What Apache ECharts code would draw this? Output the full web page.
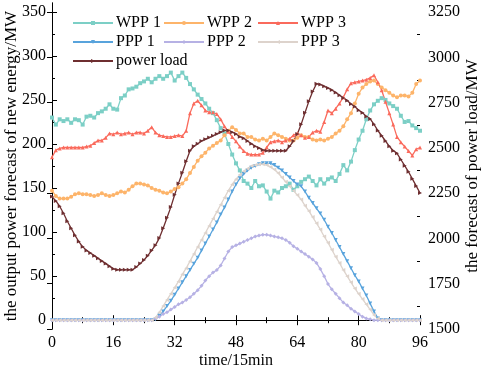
<!DOCTYPE html>
<html>
<head>
<meta charset="utf-8">
<script src="https://cdn.jsdelivr.net/npm/echarts@6/dist/echarts.min.js"></script>
<style>
  html, body { margin: 0; padding: 0; background: #fff; }
  #main { width: 484px; height: 367px; }
</style>
</head>
<body>
<div id="main"></div>
<script>
"use strict";
// time steps of 15 min, 0..96
let steps = [];
for (let i = 0; i <= 96; i++) steps.push(i);

// output power forecast of new energy (MW), left axis
let wpp1 = [230,222,228,226,228,224,228,227,222,231,232,230,235,237,240,245,240,239,252,255,262,263,265,269,271,274,270,274,277,274,277,281,272,277,281,275,268,262,256,251,246,240,235,227,218,212,200,188,178,170,158,155,150,158,152,153,146,138,147,145,150,152,155,148,152,157,160,163,158,153,160,155,160,162,158,166,176,170,180,193,205,215,228,238,245,249,252,250,246,243,240,232,225,226,221,218,215];
let wpp2 = [147,141,138,138,138,140,143,144,143,143,142,141,142,144,142,141,142,144,146,145,148,152,155,155,154,153,150,148,147,145,144,146,149,151,155,160,167,174,181,186,190,195,198,201,204,210,215,219,216,212,212,208,208,205,204,206,204,208,212,210,208,206,204,204,207,210,208,208,205,204,205,204,206,208,212,215,220,228,235,246,257,264,268,271,272,268,264,261,258,255,253,255,255,254,258,268,272];
let wpp3 = [185,193,195,196,196,196,196,196,196,197,198,201,204,204,207,212,211,213,211,212,213,211,213,213,212,215,219,213,210,209,208,208,209,210,209,215,235,246,249,244,238,236,236,234,228,220,214,208,203,197,192,189,188,188,188,190,196,202,203,204,202,204,206,210,212,210,207,208,213,215,214,225,238,235,240,246,253,262,269,270,271,272,273,275,278,270,261,248,235,222,208,202,197,192,187,194,196];
let ppp1 = [0,0,0,0,0,0,0,0,0,0,0,0,0,0,0,0,0,0,0,0,0,0,0,0,0,0,0,1,5,10,16,22,29,36,43,50,57,64,71,79,87,95,103,111,120,128,137,146,154,161,166,170,173,175,177,178,178,178,176,173,170,166,162,158,154,152,146,139,133,127,121,114,106,99,91,83,75,67,59,51,44,36,28,19,10,2,0,0,0,0,0,0,0,0,0,0,0];
let ppp2 = [0,0,0,0,0,0,0,0,0,0,0,0,0,0,0,0,0,0,0,0,0,0,0,0,0,0,0,2,4,7,9,12,15,18,20,23,26,30,34,39,45,50,54,57,62,70,78,83,85,87,89,91,93,95,96,97,97,96,95,94,93,91,88,84,81,78,75,72,69,65,58,50,41,35,30,25,20,17,13,10,7,4,2,1,0,0,0,0,0,0,0,0,0,0,0,0,0];
let ppp3 = [0,0,0,0,0,0,0,0,0,0,0,0,0,0,0,0,0,0,0,0,0,0,0,0,0,0,0,3,9,16,23,30,37,44,52,59,67,75,83,91,99,107,115,123,131,139,147,154,160,165,169,172,175,176,177,177,176,174,171,167,162,157,152,147,142,137,130,124,117,110,103,95,88,80,72,65,57,50,43,36,30,24,18,12,6,2,0,0,0,0,0,0,0,0,0,0,0];
// forecast of power load (MW), right axis
let powerLoad = [2231,2207,2178,2139,2095,2056,2017,1983,1954,1934,1920,1905,1890,1876,1861,1847,1832,1827,1827,1827,1827,1827,1842,1861,1881,1905,1934,1963,2002,2056,2114,2173,2241,2304,2363,2426,2484,2509,2523,2538,2548,2557,2567,2577,2587,2596,2596,2587,2577,2562,2553,2538,2523,2509,2499,2489,2484,2484,2484,2484,2484,2484,2509,2538,2577,2630,2694,2757,2811,2854,2850,2840,2830,2820,2806,2791,2776,2762,2742,2728,2708,2694,2674,2660,2630,2596,2567,2538,2509,2484,2470,2436,2402,2368,2329,2290,2251];

let leftTicks = [0, 50, 100, 150, 200, 250, 300, 350];
let leftMinor = [25, 75, 125, 175, 225, 275, 325];
let rightTicks = [1500, 1750, 2000, 2250, 2500, 2750, 3000, 3250];
let rightMinor = [1625, 1875, 2125, 2375, 2625, 2875, 3125];

const FONT = '"Liberation Serif", "Times New Roman", serif';
const symRight = 'path://M0,0L10,5L0,10Z';
const symDown = 'path://M0,0L10,0L5,10Z';
const symLeft = 'path://M10,0L0,5L10,10Z';

function pairs(arr) {
    return arr.map(function (v, i) { return [steps[i], v]; });
}

function lineSeries(name, arr, color, symbol, yIdx) {
    return {
        name: name,
        type: 'line',
        yAxisIndex: yIdx || 0,
        data: pairs(arr),
        symbol: symbol,
        symbolSize: 4,
        showSymbol: true,
        lineStyle: { color: color, width: 1.3 },
        itemStyle: { color: color },
        animation: false
    };
}

let myChart = echarts.init(document.getElementById('main'));

let legendBase = {
    orient: 'vertical',
    top: 15,
    padding: 0,
    itemWidth: 40,
    itemHeight: 5,
    itemGap: 3,
    textStyle: { fontFamily: FONT, fontSize: 16, color: '#000', lineHeight: 16, padding: [0, 0, 0, -2] }
};

let plain = function (v) { return String(v); };

let option = {
    backgroundColor: '#fff',
    textStyle: { fontFamily: FONT },
    grid: { left: 52, right: 64, top: 3, bottom: 38, outerBoundsMode: 'none', containLabel: false },
    legend: [
        Object.assign({}, legendBase, { left: 72, data: ['WPP 1', 'PPP 1', 'power load'] }),
        Object.assign({}, legendBase, { left: 163, data: ['WPP 2', 'PPP 2'] }),
        Object.assign({}, legendBase, { left: 257, data: ['WPP 3', 'PPP 3'] })
    ],
    xAxis: [{
        type: 'value',
        min: 0, max: 96, interval: 16,
        name: 'time/15min',
        nameLocation: 'middle',
        nameGap: 24,
        nameMoveOverlap: false,
        nameTextStyle: { fontFamily: FONT, fontSize: 16, color: '#000', verticalAlign: 'top' },
        axisLine: { lineStyle: { color: '#000', width: 1 } },
        axisTick: { inside: true, length: 5, lineStyle: { color: '#000' } },
        minorTick: { show: true, splitNumber: 2, length: 3, lineStyle: { color: '#000' } },
        axisLabel: { fontFamily: FONT, fontSize: 16, color: '#000', margin: 6 },
        splitLine: { show: false }
    }, {
        type: 'value',
        position: 'top',
        min: 0, max: 96, interval: 16,
        axisLine: { lineStyle: { color: '#000', width: 1 } },
        axisTick: { inside: true, length: 5, lineStyle: { color: '#000' } },
        minorTick: { show: true, splitNumber: 2, length: 3, lineStyle: { color: '#000' } },
        axisLabel: { show: false },
        splitLine: { show: false }
    }],
    yAxis: [{
        type: 'value',
        position: 'left',
        min: -10, max: 360,
        name: 'the output power forecast of new energy/MW',
        nameLocation: 'middle',
        nameGap: 40,
        nameMoveOverlap: false,
        nameTextStyle: { fontFamily: FONT, fontSize: 17, color: '#000', verticalAlign: 'middle' },
        axisLine: { show: true, lineStyle: { color: '#000', width: 1 } },
        axisTick: { show: true, inside: true, length: 5, customValues: leftTicks, lineStyle: { color: '#000' } },
        axisLabel: { fontFamily: FONT, fontSize: 16, color: '#000', margin: 6, customValues: leftTicks },
        splitLine: { show: false }
    }, {
        type: 'value',
        position: 'right',
        min: 1500, max: 3300,
        name: 'the forecast of power load/MW',
        nameLocation: 'middle',
        nameGap: 53,
        nameRotate: 90,
        nameMoveOverlap: false,
        nameTextStyle: { fontFamily: FONT, fontSize: 17, color: '#000', verticalAlign: 'middle' },
        axisLine: { show: true, lineStyle: { color: '#000', width: 1 } },
        axisTick: { show: true, inside: true, length: 5, customValues: rightTicks, lineStyle: { color: '#000' } },
        axisLabel: { fontFamily: FONT, fontSize: 16, color: '#000', margin: 8, customValues: rightTicks, formatter: plain },
        splitLine: { show: false }
    }, {
        type: 'value',
        position: 'left',
        min: -10, max: 360,
        axisLine: { show: false },
        axisTick: { show: true, inside: true, length: 3, customValues: leftMinor, lineStyle: { color: '#000' } },
        axisLabel: { show: false },
        splitLine: { show: false }
    }, {
        type: 'value',
        position: 'right',
        min: 1500, max: 3300,
        axisLine: { show: false },
        axisTick: { show: true, inside: true, length: 3, customValues: rightMinor, lineStyle: { color: '#000' } },
        axisLabel: { show: false },
        splitLine: { show: false }
    }],
    series: [
        lineSeries('WPP 1', wpp1, '#7ccfc6', 'rect'),
        lineSeries('WPP 2', wpp2, '#fdb46a', 'circle'),
        lineSeries('WPP 3', wpp3, '#fa6a5c', 'triangle'),
        lineSeries('PPP 1', ppp1, '#58a3dc', symDown),
        lineSeries('PPP 2', ppp2, '#b6b1e4', 'diamond'),
        lineSeries('PPP 3', ppp3, '#ddd3cc', symLeft),
        lineSeries('power load', powerLoad, '#6e2e30', symRight, 1)
    ]
};

myChart.setOption(option);
</script>
</body>
</html>
